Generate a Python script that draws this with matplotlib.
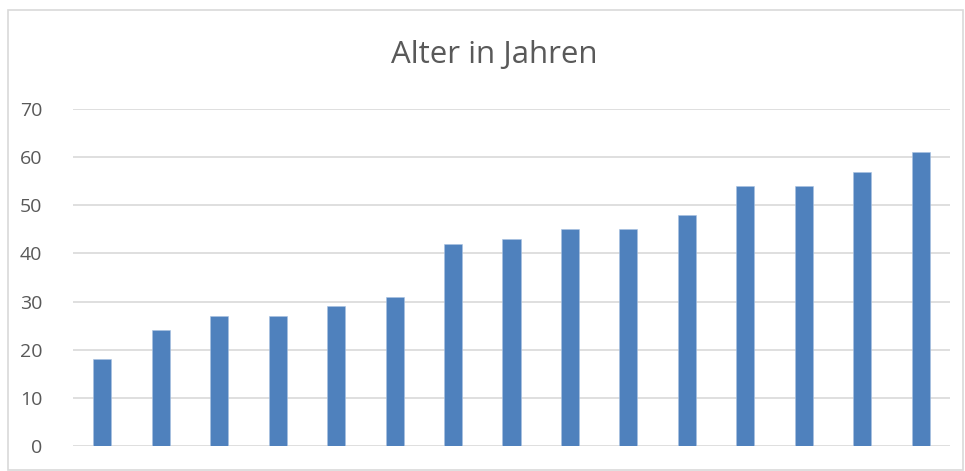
import matplotlib
matplotlib.use("Agg")
import matplotlib.pyplot as plt
from matplotlib.patches import Rectangle

categories = list(range(1, 16))
ages = [18, 24, 27, 27, 29, 31, 42, 43, 45, 45, 48, 54, 54, 57, 61]
yticks = [0, 10, 20, 30, 40, 50, 60, 70]
title = "Alter in Jahren"

plt.rcParams['font.family'] = ['Open Sans', 'DejaVu Sans']

W, H = 965, 471
fig = plt.figure(figsize=(W / 100, H / 100), dpi=100)
fig.patch.set_facecolor("white")

# outer chart border
fig.patches.append(Rectangle((8 / W, 1 - 470 / H), (963 - 8) / W, (470 - 10) / H,
                             transform=fig.transFigure, fill=False,
                             edgecolor="#d9d9d9", linewidth=1.2))

left, right = 73 / W, 950 / W
bottom, top = 1 - 446 / H, 1 - 109 / H
ax = fig.add_axes([left, bottom, right - left, top - bottom])

x = list(range(len(categories)))
ax.bar(x, ages, width=0.31, color="#4f81bd", edgecolor="#a9c1e2", linewidth=0.4, zorder=3)
ax.set_xlim(-0.5, len(categories) - 0.5)
ax.set_ylim(0, 70)
ax.set_yticks(yticks)
ax.set_yticklabels([str(t) for t in yticks], fontsize=14, color="#595959")
ax.set_xticks([])
ax.tick_params(axis="y", length=0, pad=22)
ax.grid(axis="y", color="#d9d9d9", linewidth=1.2, zorder=0)
for s in ax.spines.values():
    s.set_visible(False)
ax.set_facecolor("none")

fig.text(494 / W, 1 - 55 / H, title, ha="center", va="center", fontsize=22.5, color="#595959")

fig.savefig("out.png", dpi=100)
